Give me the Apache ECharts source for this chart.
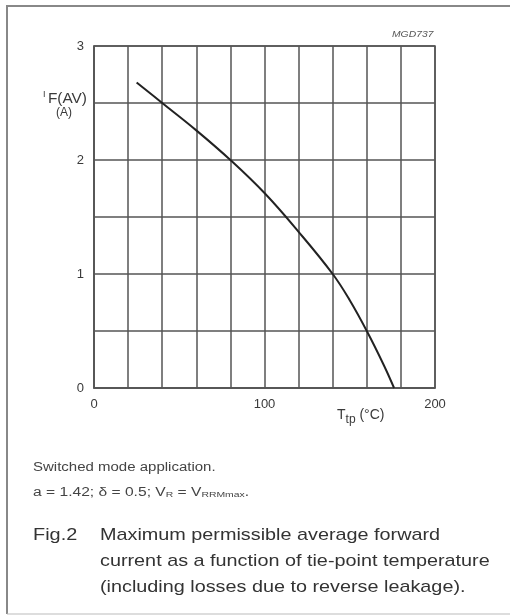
<!DOCTYPE html>
<html lang="en">
<head>
  <meta charset="UTF-8">
  <title>Fig.2 IF(AV) vs Ttp</title>
  <script src="https://cdn.jsdelivr.net/npm/echarts@6/dist/echarts.min.js"></script>
  <style>
    body { margin: 0; background: #fff; }
    #main { width: 510px; height: 616px; }
  </style>
</head>
<body>
  <div id="main"></div>
  <script>
    // tie-point temperature (°C) and max average forward current (A)
    var temps = [25, 40, 60, 80, 100, 120, 140, 150, 160, 170, 176];
    var currents = [2.68, 2.5, 2.26, 2.0, 1.71, 1.37, 1.0, 0.77, 0.5, 0.2, 0];
    var xTickLabels = ['0', '100', '200'];
    var yTickLabels = ['0', '1', '2', '3'];

    var curve = temps.map(function (t, i) { return [t, currents[i]]; });

    var ink = '#3a3a3a';
    var gridLine = '#555';
    var font = 'Liberation Sans, Arial, sans-serif';

    var myChart = echarts.init(document.getElementById('main'));

    var option = {
      backgroundColor: '#fff',
      animation: false,
      grid: {
        left: 94, top: 46, width: 341, height: 342,
        outerBoundsMode: 'none',
        show: true, borderColor: gridLine, borderWidth: 1.5
      },
      xAxis: {
        type: 'value', min: 0, max: 200, interval: 20,
        axisLine: { show: true, lineStyle: { color: gridLine, width: 1.5 } },
        axisTick: { show: false },
        splitLine: { show: true, lineStyle: { color: gridLine, width: 1.5 } },
        axisLabel: {
          margin: 10, color: ink, fontSize: 13, fontFamily: font,
          formatter: function (v) {
            return xTickLabels.indexOf(String(v)) >= 0 ? String(v) : '';
          }
        }
      },
      yAxis: {
        type: 'value', min: 0, max: 3, interval: 0.5,
        axisLine: { show: true, lineStyle: { color: gridLine, width: 1.5 } },
        axisTick: { show: false },
        splitLine: { show: true, lineStyle: { color: gridLine, width: 1.5 } },
        axisLabel: {
          margin: 10, color: ink, fontSize: 13, fontFamily: font,
          formatter: function (v) {
            return yTickLabels.indexOf(String(v)) >= 0 ? String(v) : '';
          }
        }
      },
      series: [{
        type: 'line',
        data: curve,
        smooth: 0.4,
        showSymbol: false,
        lineStyle: { color: '#222', width: 2 }
      }],
      graphic: [
        // scanned page frame
        { type: 'polyline', shape: { points: [[7, 614], [7, 6], [510, 6]] },
          style: { stroke: '#888', lineWidth: 2, fill: null } },
        { type: 'line', shape: { x1: 7, y1: 614, x2: 510, y2: 614 },
          style: { stroke: '#bbb', lineWidth: 1 } },
        { type: 'text', x: 392, y: 30, scaleX: 1.15,
          style: { text: 'MGD737', font: 'italic 9px ' + font, fill: '#555' } },
        // y axis name
        { type: 'text', x: 43, y: 90,
          style: { text: 'I', font: '9px ' + font, fill: ink } },
        { type: 'text', x: 87, y: 92, scaleX: 1.1,
          style: { text: 'F(AV)', font: '14px ' + font, fill: ink, align: 'right' } },
        { type: 'text', x: 64, y: 107,
          style: { text: '(A)', font: '12px ' + font, fill: ink, align: 'center' } },
        // x axis name
        { type: 'text', x: 337, y: 405,
          style: {
            text: '{t|T}{s|tp}{u| (°C)}', fill: ink,
            rich: {
              t: { fontSize: 14, fontFamily: font },
              s: { fontSize: 12, fontFamily: font, padding: [9, 0, 0, 0] },
              u: { fontSize: 14, fontFamily: font }
            }
          } },
        // notes
        { type: 'text', x: 33, y: 462, scaleX: 1.25,
          style: { text: 'Switched mode application.', font: '12px ' + font, fill: '#444' } },
        { type: 'text', x: 33, y: 486, scaleX: 1.3,
          style: {
            text: '{n|a = 1.42; δ = 0.5; V}{s|R}{n| = V}{s|RRMmax}{n|.}', fill: '#444',
            rich: {
              n: { fontSize: 12, fontFamily: font },
              s: { fontSize: 8, fontFamily: font, padding: [5, 0, 0, 0] }
            }
          } },
        // figure caption
        { type: 'text', x: 33, y: 522, scaleX: 1.17,
          style: { text: 'Fig.2', font: '17px ' + font, fill: '#333', lineHeight: 26 } },
        { type: 'text', x: 100, y: 522, scaleX: 1.165,
          style: {
            text: 'Maximum permissible average forward\ncurrent as a function of tie-point temperature\n(including losses due to reverse leakage).',
            font: '17px ' + font, fill: '#333', lineHeight: 26
          } }
      ]
    };

    myChart.setOption(option);
  </script>
</body>
</html>
